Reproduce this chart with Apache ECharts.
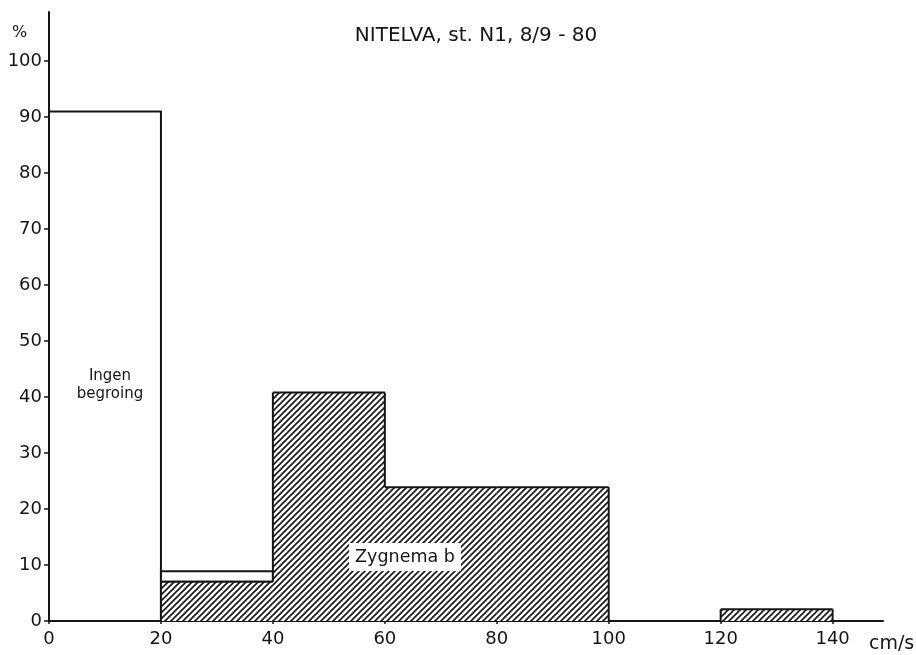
<!DOCTYPE html>
<html>
<head>
<meta charset="utf-8">
<script src="https://cdn.jsdelivr.net/npm/echarts@6/dist/echarts.min.js"></script>
<style>
	html,body{margin:0;padding:0;background:#fff;}
	#chart{width:916px;height:655px;}
</style>
</head>
<body>
<div id="chart"></div>
<script>
	// velocity classes (cm/s)
	var binStart = [0, 20, 40, 60, 80, 100, 120];
	var binEnd = [20, 40, 60, 80, 100, 120, 140];
	// Zygnema b, % cover per class (hatched)
	var zygnema = [0, 7, 40.8, 23.9, 23.9, 0, 2.1];
	// Ingen begroing (no growth), % per class, sits on top of the hatched part
	var ingen = [91, 1.9, 0, 0, 0, 0, 0];
	var xTicks = [0, 20, 40, 60, 80, 100, 120, 140];
	var yTicks = [0, 10, 20, 30, 40, 50, 60, 70, 80, 90, 100];

	var font = '"DejaVu Sans", sans-serif';
	var ink = '#151515';

	// diagonal hatching tile
	function hatch(){
		var s = 6;
		var c = document.createElement('canvas');
		c.width = s; c.height = s;
		var g = c.getContext('2d');
		g.fillStyle = '#fff';
		g.fillRect(0, 0, s, s);
		g.strokeStyle = ink;
		g.lineWidth = 1.6;
		g.beginPath();
		g.moveTo(-1, s + 1); g.lineTo(s + 1, -1);
		g.moveTo(-1, 1); g.lineTo(1, -1);
		g.moveTo(s - 1, s + 1); g.lineTo(s + 1, s - 1);
		g.stroke();
		return c;
	}
	var hatchImg = hatch();

	// rows: [start, end, low, high, leftNeighbourHigh, rightNeighbourHigh]
	function rows(low, high){
		var out = [];
		for(var i = 0; i < binStart.length; i++){
			if(high[i] <= 0) continue;
			var l = low ? low[i] : 0;
			var ln = (i > 0 && high[i - 1] > 0 && binEnd[i - 1] === binStart[i]) ? high[i - 1] : 0;
			var rn = (i < binStart.length - 1 && high[i + 1] > 0 && binStart[i + 1] === binEnd[i]) ? high[i + 1] : 0;
			out.push([binStart[i], binEnd[i], l, l + high[i], ln, rn]);
		}
		return out;
	}

	// hatched part: fill each class, stroke only the outer step outline
	function renderStep(params, api){
		var x0 = api.value(0), x1 = api.value(1), hi = api.value(3);
		var ln = api.value(4), rn = api.value(5);
		var a = api.coord([x0, 0]), b = api.coord([x1, hi]);
		var line = {stroke: ink, lineWidth: 2};
		var kids = [
			{type: 'rect', shape: {x: a[0], y: b[1], width: b[0] - a[0], height: a[1] - b[1]},
				style: {fill: {image: hatchImg, repeat: 'repeat'}}},
			{type: 'line', shape: {x1: a[0], y1: b[1], x2: b[0], y2: b[1]}, style: line}
		];
		if(hi > ln) kids.push({type: 'line', shape: {x1: a[0], y1: api.coord([x0, ln])[1], x2: a[0], y2: b[1]}, style: line});
		if(hi > rn) kids.push({type: 'line', shape: {x1: b[0], y1: api.coord([x1, rn])[1], x2: b[0], y2: b[1]}, style: line});
		return {type: 'group', children: kids};
	}

	// open part: plain outlined boxes
	function renderBox(params, api){
		var a = api.coord([api.value(0), api.value(2)]);
		var b = api.coord([api.value(1), api.value(3)]);
		return {
			type: 'rect',
			shape: {x: a[0], y: b[1], width: b[0] - a[0], height: a[1] - b[1]},
			style: {fill: '#fff', stroke: ink, lineWidth: 2}
		};
	}

	var chart = echarts.init(document.getElementById('chart'));
	chart.setOption({
		animation: false,
		backgroundColor: '#fff',
		title: {
			text: 'NITELVA, st. N1, 8/9 - 80',
			left: 471, top: 21, textAlign: 'center',
			textStyle: {fontFamily: font, fontSize: 20, fontWeight: 'normal', color: ink}
		},
		grid: {left: 49, right: 33, top: 12, bottom: 34},
		xAxis: {
			type: 'value', min: 0, max: 149,
			axisLine: {lineStyle: {color: ink, width: 2}},
			axisTick: {show: true, length: 3, customValues: xTicks, lineStyle: {color: ink, width: 1.5}},
			axisLabel: {customValues: xTicks, margin: 9, fontFamily: font, fontSize: 18, color: ink},
			splitLine: {show: false}
		},
		yAxis: {
			type: 'value', min: 0, max: 108.75,
			axisLine: {show: true, lineStyle: {color: ink, width: 2}},
			axisTick: {show: true, length: 5, customValues: yTicks, lineStyle: {color: ink, width: 1.5}},
			axisLabel: {customValues: yTicks, margin: 7, fontFamily: font, fontSize: 18, color: ink},
			splitLine: {show: false}
		},
		graphic: [
			{type: 'text', left: 12, top: 25, z: 100, style: {text: '%', font: '16px ' + font, fill: ink}},
			{type: 'text', left: 869, top: 635, z: 100, style: {text: 'cm/s', font: '19px ' + font, fill: ink}},
			{type: 'text', x: 110, y: 385, z: 100, style: {text: 'Ingen\nbegroing', font: '15px ' + font, fill: ink,
				align: 'center', verticalAlign: 'middle', lineHeight: 18}},
			{type: 'text', x: 405, y: 557, z: 100, style: {text: 'Zygnema b', font: '17.5px ' + font, fill: ink,
				align: 'center', verticalAlign: 'middle', backgroundColor: '#fff', padding: [5, 6, 5, 6]}}
		],
		series: [
			{
				name: 'Ingen begroing', type: 'custom',
				renderItem: renderBox,
				encode: {x: [0, 1], y: [2, 3]},
				data: rows(zygnema, ingen)
			},
			{
				name: 'Zygnema b', type: 'custom',
				renderItem: renderStep,
				encode: {x: [0, 1], y: [2, 3]},
				data: rows(null, zygnema)
			}
		]
	});
</script>
</body>
</html>
